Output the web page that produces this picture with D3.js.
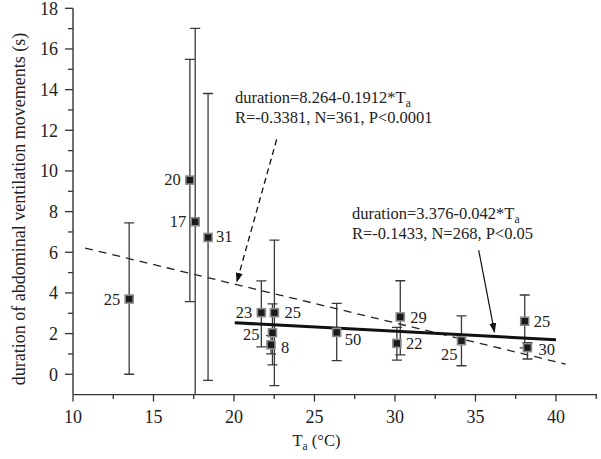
<!DOCTYPE html>
<html>
<head>
<meta charset="utf-8">
<script src="https://cdn.jsdelivr.net/npm/d3@7/dist/d3.min.js"></script>
<style>
  html, body { margin: 0; padding: 0; background: #fff; }
  svg { display: block; font-family: "Liberation Serif", "Times New Roman", serif; }
</style>
</head>
<body>
<svg id="chart" width="601" height="459"></svg>
<script>
// ---------- data ----------
const tempC   = [13.49, 17.26, 17.59, 18.39, 21.70, 22.51, 22.39, 22.30, 26.38, 30.33, 30.12, 34.13, 38.06, 38.23];
const meanDur = [3.70, 9.55, 7.50, 6.73, 3.03, 3.03, 2.04, 1.45, 2.06, 2.82, 1.52, 1.65, 2.61, 1.31];
const upperDur= [7.45, 15.49, 17.01, 13.81, 4.59, 6.60, 3.46, 1.90, 3.49, 4.60, 2.31, 2.87, 3.90, 1.55];
const lowerDur= [0.00, 3.57, -2.00, -0.30, 1.35, -0.56, 0.46, 1.00, 0.67, 0.95, 0.70, 0.42, 1.30, 0.75];
const sampleN = ["25", "20", "17", "31", "23", "25", "25", "8", "50", "29", "22", "25", "25", "30"];

const yTicks = [0, 2, 4, 6, 8, 10, 12, 14, 16, 18];
const yMinorTicks = [1, 3, 5, 7, 9, 11, 13, 15, 17];
const xTicks = [10, 15, 20, 25, 30, 35, 40];
const xMinorTicks = [12.5, 17.5, 22.5, 27.5, 32.5, 37.5, 42.5];

// regression fits: intercept, slope, T range
const fitAll   = { a: 8.264, b: -0.1912, from: 10.75, to: 40.6 };
const fitWarm  = { a: 3.376, b: -0.042,  from: 20.05, to: 40.0 };

// annotation arrows (data coords): [x1,y1] -> [x2,y2]
const arrowAll  = [[22.65, 11.55], [20.18, 4.55]];
const arrowWarm = [[35.20, 6.11], [36.18, 2.08]];

// ---------- layout ----------
const svg = d3.select("#chart");
const x = d3.scaleLinear().domain([10, 42.55]).range([73, 597]);
const y = d3.scaleLinear().domain([-1, 18]).range([394.6, 8.3]);

// label placements (pixel offsets from marker)
const labelPlace = [
  {anchor:"end", dx:-9, dy:6}, {anchor:"end", dx:-9, dy:5}, {anchor:"end", dx:-9, dy:5},
  {anchor:"start", dx:8, dy:5}, {anchor:"end", dx:-9, dy:5}, {anchor:"start", dx:10, dy:5},
  {anchor:"end", dx:-13, dy:7}, {anchor:"start", dx:10, dy:8}, {anchor:"start", dx:8, dy:13},
  {anchor:"start", dx:10, dy:6}, {anchor:"start", dx:9, dy:6}, {anchor:"end", dx:-4, dy:19},
  {anchor:"start", dx:9, dy:6}, {anchor:"start", dx:11, dy:7}
];

const defs = svg.append("defs");
defs.append("clipPath").attr("id", "plotclip").append("rect")
  .attr("x", x(10)).attr("y", y(18) - 2).attr("width", x(42.55) - x(10)).attr("height", y(-1) - y(18) + 2);
defs.append("marker").attr("id", "ah").attr("viewBox", "0 0 10 10")
  .attr("refX", 9).attr("refY", 5).attr("markerWidth", 10).attr("markerHeight", 10)
  .attr("markerUnits", "userSpaceOnUse").attr("orient", "auto")
  .append("path").attr("d", "M0,1.5 L10,5 L0,8.5 Z").attr("fill", "#111");

// ---------- axes ----------
const axisColor = "#333";
const yAxis = svg.append("g").attr("transform", `translate(${x(10)},0)`);
yAxis.append("line").attr("x1", 0).attr("x2", 0).attr("y1", y(18)).attr("y2", y(-1)).attr("stroke", axisColor).attr("stroke-width", 1.4);
yAxis.selectAll(".ymaj").data(yTicks).join("line").attr("class", "ymaj")
  .attr("x1", -8).attr("x2", 0).attr("y1", d => y(d)).attr("y2", d => y(d)).attr("stroke", axisColor).attr("stroke-width", 1.3);
yAxis.selectAll(".ymin").data(yMinorTicks).join("line").attr("class", "ymin")
  .attr("x1", -5).attr("x2", 0).attr("y1", d => y(d)).attr("y2", d => y(d)).attr("stroke", axisColor).attr("stroke-width", 1.3);
yAxis.selectAll("text").data(yTicks).join("text")
  .attr("x", -15).attr("y", d => y(d) + 6.5).attr("text-anchor", "end")
  .attr("font-size", 18).attr("fill", "#222").text(d => d);

const xAxis = svg.append("g").attr("transform", `translate(0,${y(-1)})`);
xAxis.append("line").attr("x1", x(10)).attr("x2", x(42.55)).attr("y1", 0).attr("y2", 0).attr("stroke", axisColor).attr("stroke-width", 1.4);
xAxis.selectAll(".xmaj").data(xTicks).join("line").attr("class", "xmaj")
  .attr("x1", d => x(d)).attr("x2", d => x(d)).attr("y1", 0).attr("y2", 7).attr("stroke", axisColor).attr("stroke-width", 1.3);
xAxis.selectAll(".xmin").data(xMinorTicks).join("line").attr("class", "xmin")
  .attr("x1", d => x(d)).attr("x2", d => x(d)).attr("y1", 0).attr("y2", 4.5).attr("stroke", axisColor).attr("stroke-width", 1.3);
xAxis.selectAll("text").data(xTicks).join("text")
  .attr("x", d => x(d)).attr("y", 28).attr("text-anchor", "middle")
  .attr("font-size", 18).attr("fill", "#222").text(d => d);

// axis titles
svg.append("text")
  .attr("transform", "translate(25,209) rotate(-90)")
  .attr("text-anchor", "middle").attr("font-size", 18).attr("fill", "#222")
  .text("duration of abdominal ventilation movements (s)");
const xt = svg.append("text").attr("x", x(25) + 2).attr("y", 446).attr("text-anchor", "middle")
  .attr("font-size", 16.5).attr("fill", "#222");
xt.append("tspan").text("T");
xt.append("tspan").attr("font-size", 11.5).attr("dy", 4).text("a");
xt.append("tspan").attr("dy", -4).text(" (°C)");

// ---------- plot ----------
const plot = svg.append("g").attr("clip-path", "url(#plotclip)");
const idx = d3.range(tempC.length);

// dashed regression (all data)
plot.append("line")
  .attr("x1", x(fitAll.from)).attr("y1", y(fitAll.a + fitAll.b * fitAll.from))
  .attr("x2", x(fitAll.to)).attr("y2", y(fitAll.a + fitAll.b * fitAll.to))
  .attr("stroke", "#222").attr("stroke-width", 1.3).attr("stroke-dasharray", "8,6");

// error bars
const eb = plot.append("g").attr("stroke", "#3a3a3a").attr("stroke-width", 1.3);
eb.selectAll(".v").data(idx).join("line").attr("class", "v")
  .attr("x1", i => x(tempC[i])).attr("x2", i => x(tempC[i]))
  .attr("y1", i => y(upperDur[i])).attr("y2", i => y(lowerDur[i]));
eb.selectAll(".capT").data(idx).join("line").attr("class", "capT")
  .attr("x1", i => x(tempC[i]) - 5).attr("x2", i => x(tempC[i]) + 5)
  .attr("y1", i => y(upperDur[i])).attr("y2", i => y(upperDur[i]));
eb.selectAll(".capB").data(idx.filter(i => lowerDur[i] > -1)).join("line").attr("class", "capB")
  .attr("x1", i => x(tempC[i]) - 5).attr("x2", i => x(tempC[i]) + 5)
  .attr("y1", i => y(lowerDur[i])).attr("y2", i => y(lowerDur[i]));

// solid regression (warm range)
plot.append("line")
  .attr("x1", x(fitWarm.from)).attr("y1", y(fitWarm.a + fitWarm.b * fitWarm.from))
  .attr("x2", x(fitWarm.to)).attr("y2", y(fitWarm.a + fitWarm.b * fitWarm.to))
  .attr("stroke", "#111").attr("stroke-width", 3);

// markers
plot.selectAll(".pt").data(idx).join("rect").attr("class", "pt")
  .attr("x", i => x(tempC[i]) - 4).attr("y", i => y(meanDur[i]) - 4)
  .attr("width", 8).attr("height", 8)
  .attr("fill", "#1a1a1a").attr("stroke", "#8a8a8a").attr("stroke-width", 1.6);

// sample size labels
svg.selectAll(".nl").data(idx).join("text").attr("class", "nl")
  .attr("x", i => x(tempC[i]) + labelPlace[i].dx).attr("y", i => y(meanDur[i]) + labelPlace[i].dy)
  .attr("text-anchor", i => labelPlace[i].anchor)
  .attr("font-size", 16.5).attr("fill", "#222").text(i => sampleN[i]);

// arrows
svg.append("line")
  .attr("x1", x(arrowAll[0][0])).attr("y1", y(arrowAll[0][1]))
  .attr("x2", x(arrowAll[1][0])).attr("y2", y(arrowAll[1][1]))
  .attr("stroke", "#111").attr("stroke-width", 1.3).attr("stroke-dasharray", "6,4")
  .attr("marker-end", "url(#ah)");
svg.append("line")
  .attr("x1", x(arrowWarm[0][0])).attr("y1", y(arrowWarm[0][1]))
  .attr("x2", x(arrowWarm[1][0])).attr("y2", y(arrowWarm[1][1]))
  .attr("stroke", "#111").attr("stroke-width", 1.2)
  .attr("marker-end", "url(#ah)");

// annotations
function annot(x0, yb, eq, stats) {
  const t1 = svg.append("text").attr("x", x0).attr("y", yb).attr("font-size", 16.5).attr("fill", "#222");
  t1.append("tspan").text(eq);
  t1.append("tspan").attr("font-size", 11.5).attr("dy", 4).text("a");
  svg.append("text").attr("x", x0).attr("y", yb + 20).attr("font-size", 16.5).attr("fill", "#222").text(stats);
}
annot(235, 103, "duration=8.264-0.1912*T", "R=-0.3381, N=361, P<0.0001");
annot(352, 219, "duration=3.376-0.042*T", "R=-0.1433, N=268, P<0.05");
</script>
</body>
</html>
